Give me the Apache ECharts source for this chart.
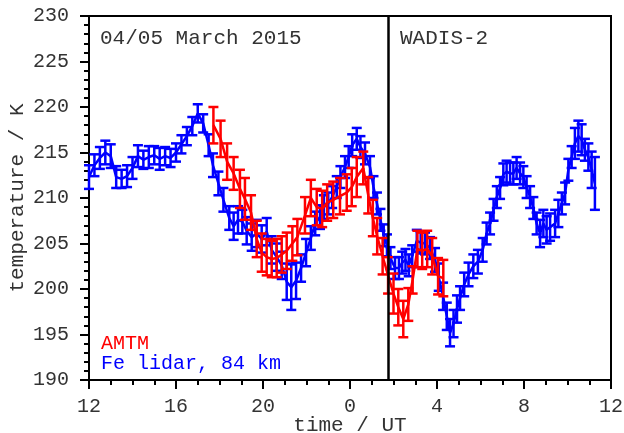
<!DOCTYPE html>
<html><head><meta charset="utf-8">
<script src="https://cdn.jsdelivr.net/npm/echarts@6/dist/echarts.min.js"></script>
<style>html,body{margin:0;padding:0;background:#fff}#c{width:624px;height:433px}</style>
</head><body><div id="c"></div>
<script>
const xTicks = [12, 16, 20, 24, 28, 32, 36];
const xTickLabels = ['12', '16', '20', '0', '4', '8', '12'];
const markerTime = 25.78;

const blueTime = [
12.00,12.25,12.50,12.75,13.00,13.25,13.50,13.75,14.00,14.25,
14.50,14.75,15.00,15.25,15.50,15.75,16.00,16.25,16.50,16.75,
17.00,17.25,17.50,17.70,17.95,18.18,18.45,18.65,18.85,19.05,
19.25,19.48,19.71,19.94,20.17,20.40,20.63,20.86,21.09,21.30,
21.52,21.75,21.98,22.20,22.40,22.62,22.80,23.00,23.18,23.39,
23.56,23.77,23.94,24.10,24.31,24.48,24.69,24.92,25.08,25.24,
25.40,25.55,25.70,25.86,26.07,26.25,26.40,26.55,26.70,26.86,
27.07,27.25,27.45,27.68,27.91,28.08,28.28,28.45,28.60,28.76,
28.92,29.06,29.25,29.45,29.67,29.88,30.10,30.28,30.44,30.60,
30.75,30.90,31.05,31.20,31.36,31.51,31.66,31.82,31.97,32.12,
32.28,32.43,32.58,32.74,32.89,33.04,33.20,33.43,33.58,33.74,
33.89,34.04,34.19,34.34,34.50,34.65,34.80,34.96,35.11,35.26];
const blueTemp = [
212.3,213.6,214.4,215.0,214.6,212.3,212.1,212.4,213.3,214.6,
214.2,214.5,214.7,214.3,214.6,214.4,215.0,215.9,216.8,217.9,
219.3,218.2,215.8,213.6,211.6,209.8,207.8,206.9,207.6,207.4,
206.4,205.7,206.1,205.5,206.3,204.3,203.5,202.6,200.8,200.2,
200.9,202.3,204.0,205.6,207.2,207.9,209.0,209.4,210.1,211.2,
212.3,213.4,214.5,215.8,216.5,215.6,214.9,213.4,211.2,209.4,
207.6,205.9,204.8,203.4,202.3,202.3,202.9,203.2,202.6,203.6,
205.3,205.1,205.0,204.5,203.2,201.3,199.2,197.0,195.2,196.2,
197.8,199.0,200.5,201.6,202.5,203.0,204.3,206.1,207.2,208.7,
210.1,211.1,212.6,212.9,212.7,212.7,213.3,212.7,212.3,211.2,
210.1,208.9,207.2,206.1,207.2,206.5,206.8,207.2,208.3,209.4,
210.5,213.1,214.5,216.0,216.8,216.4,215.3,214.5,213.1,211.6];
const blueErr = [
1.3,1.2,1.2,1.3,1.3,1.2,1.0,1.2,1.2,1.2,
1.0,1.2,1.0,1.2,1.0,1.0,1.0,1.0,1.0,1.0,
1.0,1.0,1.2,1.3,1.3,1.3,1.3,1.5,1.5,1.3,
1.5,1.5,1.5,1.5,1.5,1.5,1.5,1.5,2.0,2.5,
2.0,1.5,1.5,1.3,1.3,1.3,1.3,1.2,1.2,1.2,
1.2,1.2,1.2,1.2,1.2,1.2,1.2,1.2,1.2,1.2,
1.2,1.2,1.2,1.2,1.2,1.2,1.2,1.2,1.2,1.2,
1.2,1.2,1.2,1.2,1.3,1.5,1.5,1.5,1.5,1.5,
1.5,1.3,1.3,1.3,1.3,1.3,1.3,1.2,1.2,1.2,
1.2,1.2,1.2,1.2,1.2,1.2,1.2,1.2,1.2,1.2,
1.2,1.2,1.2,1.5,1.5,1.5,1.5,1.5,1.5,1.2,
1.2,1.2,1.2,1.7,1.7,1.7,1.2,1.5,2.0,2.9];

const redTime = [
17.72,18.05,18.35,18.65,18.94,19.17,19.45,19.71,19.94,20.17,
20.40,20.63,20.86,21.09,21.35,21.58,21.93,22.20,22.47,22.72,
22.95,23.23,23.54,23.85,24.08,24.31,24.61,24.84,25.05,25.25,
25.50,25.75,26.00,26.22,26.45,26.68,26.88,27.10,27.32,27.55,
27.78,28.05,28.29];
const redTemp = [
218.0,216.5,214.0,212.7,211.0,209.9,208.4,205.5,204.0,203.5,
203.3,203.4,203.8,204.2,205.0,205.7,208.1,210.0,209.0,208.8,
209.5,209.8,210.2,210.6,211.2,212.3,213.3,210.3,207.8,205.8,
203.6,201.5,199.5,198.0,196.7,198.3,201.0,204.4,204.2,204.4,
203.6,201.4,201.2];
const redErr = [
2.0,2.0,2.0,1.8,2.1,2.3,1.9,2.0,2.1,2.0,
2.0,2.1,2.0,2.0,1.9,2.0,2.0,2.0,2.0,2.0,
2.0,2.0,2.0,2.0,2.1,2.2,1.8,2.0,2.0,2.0,
2.0,2.0,2.2,2.0,2.0,1.8,1.5,2.0,2.0,2.0,
2.0,2.0,2.0];

const FONT = 'Liberation Mono';
const BLUE = '#0000ff', RED = '#ff0000';

function lineData(t, v) { return t.map((x, i) => [x, v[i]]); }
function errData(t, v, e) { return t.map((x, i) => [x, v[i] - e[i], v[i] + e[i]]); }

function errRender(color) {
  return function (params, api) {
    const lo = api.coord([api.value(0), api.value(1)]);
    const hi = api.coord([api.value(0), api.value(2)]);
    const hw = 5;
    const st = { stroke: color, lineWidth: 2.5 };
    return {
      type: 'group',
      children: [
        { type: 'line', shape: { x1: lo[0], y1: lo[1], x2: hi[0], y2: hi[1] }, style: st },
        { type: 'line', shape: { x1: lo[0] - hw, y1: lo[1], x2: lo[0] + hw, y2: lo[1] }, style: st },
        { type: 'line', shape: { x1: hi[0] - hw, y1: hi[1], x2: hi[0] + hw, y2: hi[1] }, style: st }
      ]
    };
  };
}

const chart = echarts.init(document.getElementById('c'), null, { renderer: 'canvas' });
const axisLine = { show: true, lineStyle: { color: '#000', width: 2 } };
const axisTick = { show: true, inside: false, length: 9, lineStyle: { color: '#000', width: 2 } };
const txt = (size, color) => ({ fontFamily: FONT, fontSize: size, fontWeight: 'normal', color: color });
chart.setOption({
  animation: false,
  backgroundColor: '#fff',
  grid: { left: 89, top: 16, width: 522, height: 364, show: true, borderColor: '#000', borderWidth: 2,
          containLabel: false, outerBoundsMode: 'none' },
  title: [
    { text: '04/05 March 2015', left: 95, top: 23, textStyle: txt(21, '#333') },
    { text: 'WADIS-2', left: 395, top: 23, textStyle: txt(21, '#333') },
    { text: 'AMTM', left: 96, top: 329, textStyle: txt(20, RED) },
    { text: 'Fe lidar, 84 km', left: 96, top: 349, textStyle: txt(20, BLUE) }
  ],
  xAxis: {
    type: 'value', min: xTicks[0], max: xTicks[xTicks.length - 1], interval: 4,
    name: 'time / UT', nameLocation: 'middle', nameGap: 35, nameMoveOverlap: false,
    nameTextStyle: txt(21, '#333'),
    axisLine: axisLine, axisTick: axisTick,
    minorTick: { show: true, splitNumber: 4, length: 5, lineStyle: { color: '#000', width: 2 } },
    splitLine: { show: false }, minorSplitLine: { show: false },
    axisLabel: {
      fontFamily: FONT, fontSize: 20, color: '#333', margin: 17,
      formatter: v => { const i = xTicks.indexOf(v); return i >= 0 ? xTickLabels[i] : ''; }
    }
  },
  yAxis: {
    type: 'value', min: 190, max: 230, interval: 5,
    name: 'temperature / K', nameLocation: 'middle', nameGap: 61, nameMoveOverlap: false,
    nameTextStyle: txt(21, '#333'),
    axisLine: axisLine, axisTick: axisTick,
    minorTick: { show: true, splitNumber: 5, length: 5, lineStyle: { color: '#000', width: 2 } },
    splitLine: { show: false }, minorSplitLine: { show: false },
    axisLabel: { fontFamily: FONT, fontSize: 20, color: '#333', margin: 20 }
  },
  series: [
    {
      type: 'line', name: 'Fe lidar, 84 km', data: lineData(blueTime, blueTemp),
      symbol: 'none', lineStyle: { color: BLUE, width: 2.5 }, z: 2,
      markLine: {
        silent: true, symbol: ['none', 'none'], label: { show: false },
        lineStyle: { color: '#000', width: 2.5, type: 'solid' },
        data: [{ xAxis: markerTime }]
      }
    },
    { type: 'custom', name: 'Fe err', data: errData(blueTime, blueTemp, blueErr), renderItem: errRender(BLUE), z: 2 },
    { type: 'line', name: 'AMTM', data: lineData(redTime, redTemp), symbol: 'none', lineStyle: { color: RED, width: 2.5 }, z: 4 },
    { type: 'custom', name: 'AMTM err', data: errData(redTime, redTemp, redErr), renderItem: errRender(RED), z: 4 }
  ]
});
</script></body></html>
